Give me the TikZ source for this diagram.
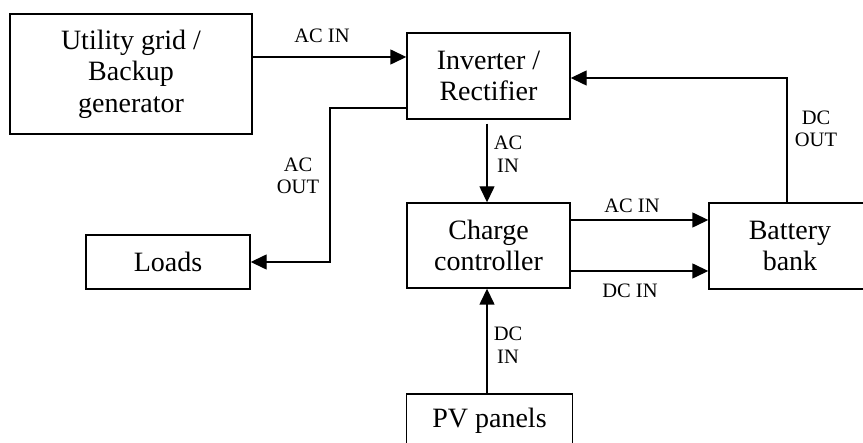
\documentclass[tikz,border=0pt]{standalone}
\usepackage{fontspec}
\setmainfont{Liberation Serif}
\usetikzlibrary{arrows.meta,calc}
\begin{document}
\begin{tikzpicture}[x=1pt,y=-1pt,
  box/.style={draw,line width=1.4pt,rectangle,inner sep=0pt,align=center,
    font=\fontsize{28}{31.5}\selectfont},
  lbl/.style={align=center,inner sep=0pt,font=\fontsize{20.5}{22.5}\selectfont},
  arr/.style={line width=1.4pt,-{Triangle[length=16pt,width=15pt]}}]
\useasboundingbox (0,0) rectangle (863,443);
\clip (0,0) rectangle (863,443);
\node[box,minimum width=242pt,minimum height=120pt] (util) at (131,74) {Utility grid /\\Backup\\generator};
\node[box,minimum width=163pt,minimum height=86pt] (inv) at (488.5,76) {Inverter /\\Rectifier};
\node[box,minimum width=164pt,minimum height=54pt] (loads) at (168,262) {Loads};
\node[box,minimum width=163pt,minimum height=85pt] (cc) at (488.5,245.5) {Charge\\controller};
\node[box,minimum width=162pt,minimum height=86pt] (bat) at (790,246) {Battery\\bank};
\node[box,minimum width=166pt,minimum height=54pt] (pv) at (489.5,421) {PV panels};
\coordinate (bend) at (330,262);
\coordinate (vin) at ([xshift=-1.5pt]cc.south);
% connectors
\draw[arr] ([yshift=17pt]util.east) -- ([yshift=17pt]util.east -| inv.west);
\draw[arr] ([yshift=-32pt]inv.west) -| (bend) -- (loads.east);
\draw[arr] ([xshift=-3pt]bat.north) |- ([yshift=-2pt]inv.east);
\draw[arr] ([xshift=-1.5pt,yshift=-4pt]inv.south) -- ([xshift=-1.5pt]cc.north);
\draw[arr] ([yshift=25.5pt]cc.east) -- ([yshift=25.5pt]cc.east -| bat.west);
\draw[arr] ([yshift=-25.5pt]cc.east) -- ([yshift=-25.5pt]cc.east -| bat.west);
\draw[arr] (pv.north -| vin) -- (vin);
% labels
\node[lbl] (l1) at (322,36) {AC IN};
\node[lbl] (l2) at (298,176) {AC\\OUT};
\node[lbl] (l3) at (816,129) {DC\\OUT};
\node[lbl] (l4) at (508,154) {AC\\IN};
\node[lbl] (l5) at (632,206) {AC IN};
\node[lbl] (l6) at (630,291) {DC IN};
\node[lbl] (l7) at (508,345) {DC\\IN};
\end{tikzpicture}
\end{document}
